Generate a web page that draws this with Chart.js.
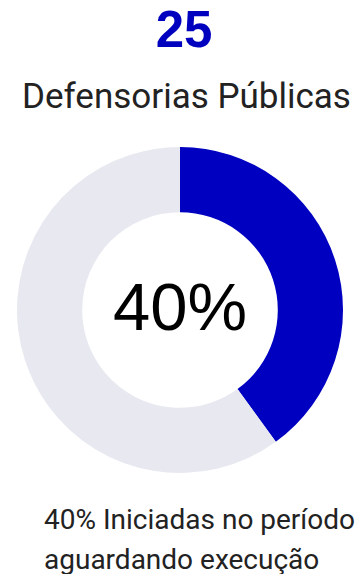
<!DOCTYPE html>
<html>
<head>
<meta charset="utf-8">
<script src="https://cdn.jsdelivr.net/npm/chart.js@4/dist/chart.umd.min.js"></script>
<style>
  body { margin: 0; background: #fff; width: 362px; height: 574px; position: relative; overflow: hidden; }
  #total { position: absolute; left: 0; width: 368px; top: 0px; text-align: center;
    font-family: "Liberation Sans", Arial, sans-serif; font-weight: bold; font-size: 51px; color: #0000bf; }
  #titulo { position: absolute; left: 0; width: 373px; top: 76px; text-align: center; white-space: nowrap;
    font-family: Roboto, sans-serif; font-size: 35px; color: #222; }
  #box { position: absolute; left: 0; top: 147px; width: 360px; height: 326px; }
  #legenda { position: absolute; left: 44px; top: 500px; width: 318px; white-space: nowrap;
    font-family: Roboto, sans-serif; font-size: 28px; line-height: 40px; color: #222; }
</style>
</head>
<body>
<div id="total"></div>
<div id="titulo"></div>
<div id="box"><canvas id="myChart"></canvas></div>
<div id="legenda"></div>
<script>
var total = 25;
var titulo = "Defensorias Públicas";
var labels = ["Iniciadas no período aguardando execução", "Demais"];
var values = [40, 60];
var colors = ["#0000c0", "#e8e9f0"];

document.getElementById("total").innerHTML = total;
document.getElementById("titulo").innerHTML = titulo;
document.getElementById("legenda").innerHTML = values[0] + "% Iniciadas no período<br>aguardando execução";

var centerText = {
  id: "centerText",
  afterDraw: function(chart) {
    var ctx = chart.ctx;
    var meta = chart.getDatasetMeta(0).data[0];
    ctx.save();
    ctx.font = "67px 'Liberation Sans', Arial, sans-serif";
    ctx.fillStyle = "#000";
    ctx.textAlign = "center";
    ctx.textBaseline = "middle";
    ctx.fillText(values[0] + "%", meta.x, meta.y + 2);
    ctx.restore();
  }
};

new Chart("myChart", {
  type: "doughnut",
  data: {
    labels: labels,
    datasets: [{
      data: values,
      backgroundColor: colors,
      borderWidth: 0
    }]
  },
  options: {
    responsive: true,
    maintainAspectRatio: false,
    animation: false,
    cutout: "60%",
    plugins: {
      legend: { display: false },
      tooltip: { enabled: false }
    }
  },
  plugins: [centerText]
});
</script>
</body>
</html>
